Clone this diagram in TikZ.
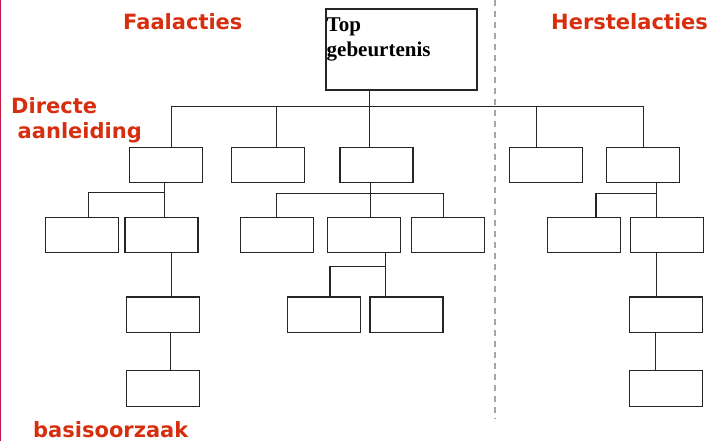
\documentclass[tikz,border=0pt]{standalone}
\usepackage{fontspec}
\newfontfamily\kopfont{DejaVu Sans}
\newfontfamily\blokfont{Liberation Serif}
\definecolor{faalrood}{RGB}{214,46,14}
\definecolor{randrood}{RGB}{190,24,72}
\tikzset{
  blok/.style={draw=black!85,line width=1.1pt,minimum width=73pt,minimum height=35.5pt,inner sep=0pt},
  tak/.style={draw=black!85,line width=1.1pt},
  kop/.style={font=\kopfont\bfseries\fontsize{21}{24.3}\selectfont,text=faalrood,anchor=base west,inner sep=0pt,align=left},
}
\begin{document}
\begin{tikzpicture}[x=1pt,y=-1pt]
\useasboundingbox (0,0) rectangle (710,441);

% rand en scheiding
\draw[randrood,line width=1.3pt] (0.6,0) -- (0.6,441);
\draw[gray!70,line width=1.2pt,dash pattern=on 6pt off 5pt] (495,0) -- (495,419);

% koppen
\node[kop] (faal) at (123,30) {Faalacties};
\node[kop] (herstel) at (551,30) {Herstelacties};
\node[kop] (direct) at (11,138.3) {Directe\\\hspace*{6.5pt}aanleiding};
\node[kop] (basis) at (33,437.3) {basisoorzaak};

% top gebeurtenis
\node[blok,minimum width=151pt,minimum height=81pt] (top) at (401.5,49.5) {};
\node[anchor=base west,inner sep=0pt,align=left,
  font=\blokfont\bfseries\fontsize{21}{25}\selectfont] (toptekst) at (326.5,56.7) {Top\\gebeurtenis};

% eerste niveau
\node[blok] (f1) at (165.8,165) {};
\node[blok] (f2) at (268.3,165) {};
\node[blok] (f3) at (376.5,165) {};
\node[blok] (h1) at (546,165) {};
\node[blok] (h2) at (642.8,165) {};

% tweede niveau
\node[blok] (f11) at (81.8,235) {};
\node[blok] (f12) at (161.5,235) {};
\node[blok] (f31) at (276.8,235) {};
\node[blok] (f32) at (363.8,235) {};
\node[blok] (f33) at (447.8,235) {};
\node[blok] (h21) at (584.3,235) {};
\node[blok] (h22) at (666.8,235) {};

% derde en vierde niveau
\node[blok] (f121) at (162.8,314.7) {};
\node[blok] (f321) at (323.8,314.7) {};
\node[blok] (f322) at (406.5,314.7) {};
\node[blok] (h221) at (665.7,314.7) {};
\node[blok] (f1211) at (162.8,388.3) {};
\node[blok] (h2211) at (665.7,388.3) {};

% takken top
\draw[tak] ([xshift=-32.2pt]top.south) -- ++(0,16) -| ([xshift=5.9pt]f1.north);
\draw[tak] ([xshift=-32.2pt]top.south) -- ++(0,16) -| ([xshift=8.4pt]f2.north);
\draw[tak] ([xshift=-32.2pt]top.south) -- ([xshift=-7.2pt]f3.north);
\draw[tak] ([xshift=-32.2pt]top.south) -- ++(0,16) -| ([xshift=-9.3pt]h1.north);
\draw[tak] ([xshift=-32.2pt]top.south) -- ++(0,16) -| ([xshift=0.5pt]h2.north);

% takken faalacties
\draw[tak] ([xshift=-1.5pt]f1.south) -- ++(0,9) -| ([xshift=6.5pt]f11.north);
\draw[tak] ([xshift=-1.5pt]f1.south) -- ([xshift=2.8pt]f12.north);
\draw[tak] ([xshift=10.2pt]f12.south) -- ([xshift=10.2pt]f12.south |- f121.north);
\draw[tak] ([xshift=7.9pt]f121.south) -- ([xshift=7.9pt]f121.south |- f1211.north);

\draw[tak] ([xshift=-5.8pt]f3.south) -- ++(0,10.5) -| (f31.north);
\draw[tak] ([xshift=-5.8pt]f3.south) -- ([xshift=6.9pt]f32.north);
\draw[tak] ([xshift=-5.8pt]f3.south) -- ++(0,10.5) -| ([xshift=-4.5pt]f33.north);

\draw[tak] ([xshift=21.5pt]f32.south) -- ++(0,13.3) -| ([xshift=6.2pt]f321.north);
\draw[tak] ([xshift=21.5pt]f32.south) -- ([xshift=-21.2pt]f322.north);

% takken herstelacties
\draw[tak] ([xshift=13.9pt]h2.south) -- ++(0,10) -| ([xshift=11.7pt]h21.north);
\draw[tak] ([xshift=13.9pt]h2.south) -- ([xshift=-10.1pt]h22.north);
\draw[tak] ([xshift=-10.5pt]h22.south) -- ([xshift=-10.5pt]h22.south |- h221.north);
\draw[tak] ([xshift=-10pt]h221.south) -- ([xshift=-10pt]h221.south |- h2211.north);

\end{tikzpicture}
\end{document}
